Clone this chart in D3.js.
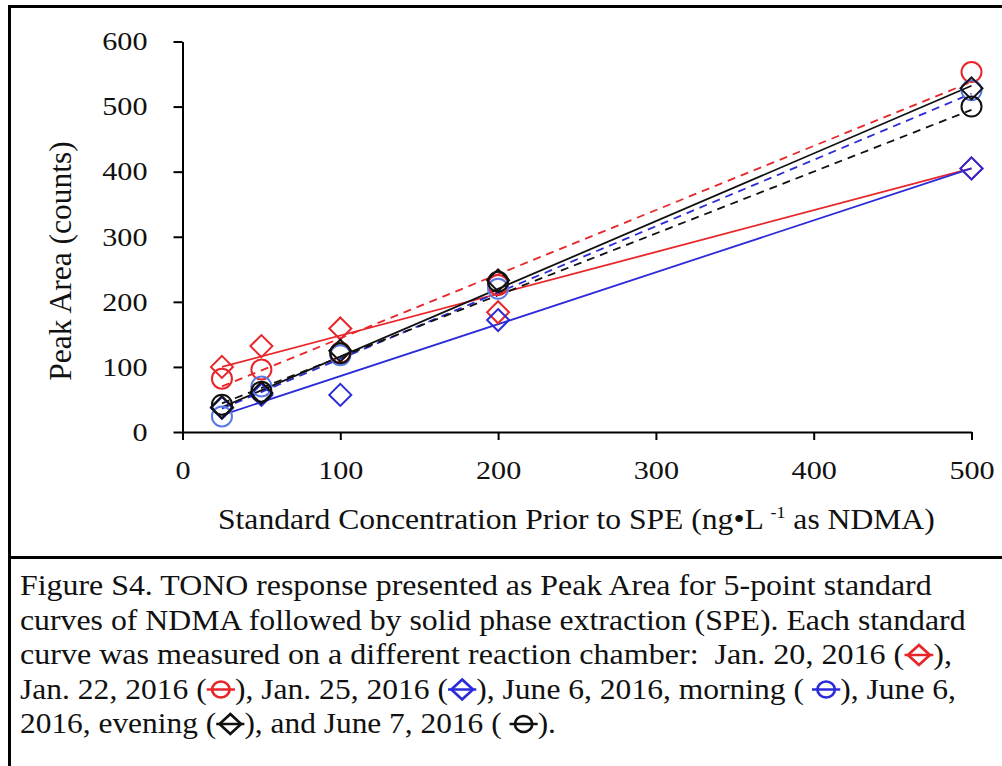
<!DOCTYPE html>
<html>
<head>
<meta charset="utf-8">
<script src="https://cdn.jsdelivr.net/npm/d3@7"></script>
<style>
  body { margin: 0; background: #fff; }
  svg { display: block; }
</style>
</head>
<body>
<script>
// concentrations (ng/L) of the 5 standards
let concentrations = [25, 50, 100, 200, 500]
let lineEnds = [25, 500]

// peak area, one list per standard curve
let jan20 = [100, 132, 159, 184, 405]
let jan22 = [82, 96, 122, 226, 553]
let jan25 = [37, 57, 57, 172, 405]
let jun6am = [24, 70, 118, 220, 525]
let jun6pm = [38, 60, 125, 233, 528]
let jun7 = [42, 62, 121, 231, 500]

// trend lines, values at 25 and 500
let jan20Line = [100, 405]
let jan22Line = [70, 538]
let jan25Line = [26, 405]
let jun6amLine = [36, 520]
let jun6pmLine = [38, 532]
let jun7Line = [44, 495]

let xTicks = [0, 100, 200, 300, 400, 500]
let yTicks = [0, 100, 200, 300, 400, 500, 600]

const FONT = '"Liberation Serif"'
const red = "#e8262a"
const blue = "#2b2bd9"
const lightBlue = "#5a78e6"
const black = "#111"

let series = [
    { name: "Jan. 20, 2016", values: jan20, line: jan20Line, color: red, shape: "diamond", dash: null },
    { name: "Jan. 22, 2016", values: jan22, line: jan22Line, color: red, shape: "circle", dash: "8,6" },
    { name: "Jan. 25, 2016", values: jan25, line: jan25Line, color: blue, shape: "diamond", dash: null },
    { name: "June 6, 2016, morning", values: jun6am, line: jun6amLine, color: lightBlue, lineColor: blue, shape: "circle", dash: "8,6" },
    { name: "June 6, 2016, evening", values: jun6pm, line: jun6pmLine, color: black, shape: "diamond", dash: null },
    { name: "June 7, 2016", values: jun7, line: jun7Line, color: black, shape: "circle", dash: "8,6" }
]

let width = 1002;
let height = 766;

let svg = d3.select("body").append("svg")
    .attr("width", width)
    .attr("height", height)

// frame around figure + caption
svg.append("path")
    .attr("d", "M9.5,770 L9.5,6.5 L1010,6.5")
    .attr("fill", "none")
    .attr("stroke", "#000")
    .attr("stroke-width", 3)
svg.append("line")
    .attr("x1", 9).attr("x2", 1010)
    .attr("y1", 557.5).attr("y2", 557.5)
    .attr("stroke", "#000")
    .attr("stroke-width", 3)

const xScale = d3.scaleLinear().domain([0, 500]).range([182.5, 971.5])
const yScale = d3.scaleLinear().domain([0, 600]).range([432, 41.5])

let xAxis = svg.append("g")
    .attr("transform", "translate(0,432)")
    .call(d3.axisBottom(xScale).tickValues(xTicks).tickSize(8).tickSizeOuter(0).tickPadding(21))
let yAxis = svg.append("g")
    .attr("transform", "translate(182.5,0)")
    .call(d3.axisLeft(yScale).tickValues(yTicks).tickSize(9).tickSizeOuter(0).tickPadding(26))

svg.selectAll(".domain, .tick line")
    .attr("stroke", "#000")
    .attr("stroke-width", 2)
svg.selectAll(".tick text")
    .style("font-family", FONT)
    .style("font-size", "26px")
    .attr("fill", "#111")

// tick labels in the figure are a bit wide
xAxis.selectAll(".tick text").attr("transform", "scale(1.16,1)")
yAxis.selectAll(".tick text")
    .attr("x", 0)
    .attr("transform", "translate(-35,0) scale(1.16,1)")

// trend lines
let line = d3.line()
    .x((d, i) => xScale(lineEnds[i]))
    .y(d => yScale(d))

svg.append("g").selectAll("path")
    .data(series)
    .enter()
    .append("path")
    .attr("d", d => line(d.line))
    .attr("fill", "none")
    .attr("stroke", d => d.lineColor || d.color)
    .attr("stroke-width", 1.8)
    .attr("stroke-dasharray", d => d.dash)

function drawMarker(g, shape, x, y, r, color, sw) {
    if (shape === "circle") {
        g.append("circle")
            .attr("cx", x).attr("cy", y).attr("r", r)
            .attr("fill", "none")
            .attr("stroke", color)
            .attr("stroke-width", sw)
    } else {
        g.append("path")
            .attr("d", `M${x},${y - r}L${x + r},${y}L${x},${y + r}L${x - r},${y}Z`)
            .attr("fill", "none")
            .attr("stroke", color)
            .attr("stroke-width", sw)
    }
}

let markers = svg.append("g")
series.forEach(s => {
    s.values.forEach((v, i) => {
        drawMarker(markers, s.shape, xScale(concentrations[i]), yScale(v), s.shape === "circle" ? 10 : 11, s.color, 2)
    })
})

// axis titles
svg.append("text")
    .attr("transform", "translate(71,261) rotate(-90)")
    .attr("text-anchor", "middle")
    .style("font-family", FONT)
    .style("font-size", "31.5px")
    .attr("fill", "#111")
    .text("Peak Area (counts)")

let xt = svg.append("text")
    .attr("x", 218)
    .attr("y", 529)
    .style("font-family", FONT)
    .style("font-size", "30px")
    .attr("fill", "#111")
xt.append("tspan").text("Standard Concentration Prior to SPE (ng•L ")
xt.append("tspan").attr("dy", -11).style("font-size", "17px").text("-1")
xt.append("tspan").attr("dy", 11).text(" as NDMA)")
let xtw = xt.node().getComputedTextLength()
xt.attr("transform", `translate(218,0) scale(${717 / xtw},1) translate(-218,0)`)

// caption with inline symbols
let sym = i => ({ sym: series[i] })
let captionLines = [
    ["Figure S4. TONO response presented as Peak Area for 5-point standard"],
    ["curves of NDMA followed by solid phase extraction (SPE). Each standard"],
    ["curve was measured on a different reaction chamber:  Jan. 20, 2016 (", sym(0), "),"],
    ["Jan. 22, 2016 (", sym(1), "), Jan. 25, 2016 (", sym(2), "), June 6, 2016, morning ( ", sym(3), "), June 6,"],
    ["2016, evening (", sym(4), "), and June 7, 2016 ( ", sym(5), ")."]
]
let captionWidths = [912, 946, 932, 936, 536]
let captionBase = 595

captionLines.forEach((parts, li) => {
    let g = svg.append("g")
    let cx = 0
    parts.forEach(p => {
        if (typeof p === "string") {
            let t = g.append("text")
                .attr("x", cx)
                .attr("y", 0)
                .style("font-family", FONT)
                .style("font-size", "29px")
                .style("white-space", "pre")
                .attr("fill", "#111")
                .text(p)
            cx += t.node().getComputedTextLength()
        } else {
            let s = p.sym
            let w = 26
            g.append("line")
                .attr("x1", cx).attr("x2", cx + w)
                .attr("y1", -9).attr("y2", -9)
                .attr("stroke", s.lineColor || s.color)
                .attr("stroke-width", 2.5)
            drawMarker(g, s.shape, cx + w / 2, -9, s.shape === "circle" ? 8 : 10, s.lineColor || s.color, 2.5)
            cx += w
        }
    })
    g.attr("transform", `translate(20,${captionBase + li * 34.5}) scale(${captionWidths[li] / cx},1)`)
})
</script>
</body>
</html>
